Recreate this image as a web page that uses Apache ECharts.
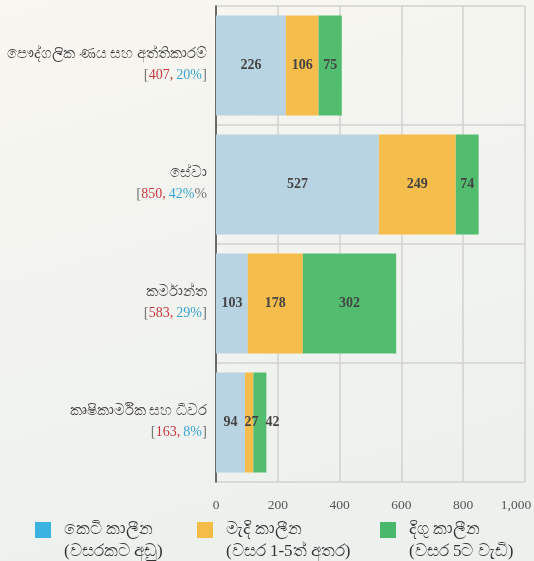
<!DOCTYPE html>
<html><head><meta charset="utf-8">
<script src="https://cdn.jsdelivr.net/npm/echarts@6/dist/echarts.min.js"></script>
<style>html,body{margin:0;padding:0;}#c{width:534px;height:561px;}</style>
</head><body><div id="c"></div>
<script>
const categories = ['පෞද්ගලික ණය සහ අත්තිකාරම්', 'සේවා', 'කර්මාන්ත', 'කෘෂිකාර්මික සහ ධීවර'];
const totals = [407, 850, 583, 163];
const shares = [20, 42, 29, 8];
const closers = [']', '%', ']', ']'];
const shortTerm = [226, 527, 103, 94];
const mediumTerm = [106, 249, 178, 27];
const longTerm = [75, 74, 302, 42];
const seriesNames = ['කෙටි කාලීන\n(වසරකට අඩු)', 'මැදි කාලීන\n(වසර 1-5ත් අතර)', 'දිගු කාලීන\n(වසර 5ට වැඩි)'];
const xTicks = [0, 200, 400, 600, 800, 1000];

const font = "'Liberation Serif', 'DejaVu Serif', serif";
const barColors = ['#b8d3e2', '#f5bd4b', '#52bd6f'];
const legendColors = ['#3bb3e0', '#f3bd48', '#48b86a'];
const seriesData = [shortTerm, mediumTerm, longTerm];

// keep labels of narrow stacked segments from overlapping (shift right)
const labelRight = {};
function labelLayout(params) {
  const r = params.rect, lr = params.labelRect;
  const key = params.dataIndex;
  let cx = r.x + r.width / 2;
  const w = lr.width;
  if (params.seriesIndex > 0 && labelRight[key] != null) {
    cx = Math.max(cx, labelRight[key] + 7 + w / 2);
  }
  labelRight[key] = cx + w / 2;
  return {x: cx, y: r.y + r.height / 2, align: 'center', verticalAlign: 'middle'};
}

const chart = echarts.init(document.getElementById('c'), null, {renderer: 'canvas'});
const option = {
  backgroundColor: new echarts.graphic.LinearGradient(0, 0, 0.3, 1, [
    {offset: 0, color: '#f8f6f0'}, {offset: 1, color: '#edf1ee'}
  ]),
  animation: false,
  textStyle: {fontFamily: font},
  grid: {left: 216, right: 9, top: 6, bottom: 79, outerBoundsMode: 'none'},
  xAxis: {
    type: 'value', min: 0, max: 1000, interval: 200,
    axisLine: {show: false}, axisTick: {show: false},
    splitLine: {show: true, lineStyle: {color: '#d2d2d0', width: 1.5}},
    axisLabel: {
      color: '#555', fontSize: 13.5, fontFamily: font, margin: 16,
      formatter: v => {
        if (!xTicks.includes(v)) return '';
        const s = v.toLocaleString('en-US');
        return v === xTicks[xTicks.length - 1] ? `{m|${s}}` : s;
      },
      rich: {m: {color: '#555', fontSize: 13.5, fontFamily: font, padding: [0, 18, 0, 0]}}
    }
  },
  yAxis: {
    type: 'category', data: categories, inverse: true,
    axisLine: {show: true, lineStyle: {color: '#444', width: 1.5}},
    axisTick: {show: false},
    splitLine: {show: true, lineStyle: {color: '#d2d2d0', width: 1.5}},
    axisLabel: {
      margin: 9, align: 'right', lineHeight: 20,
      formatter: (v, i) => `{n|${v}}\n{b|[}{r|${totals[i]},} {p|${shares[i]}%}{b|${closers[i]}}`,
      rich: {
        n: {color: '#444', fontSize: 14.8, fontFamily: font, lineHeight: 20, padding: [0, 0, 2, 0]},
        b: {color: '#777', fontSize: 15, fontFamily: font, lineHeight: 20},
        r: {color: '#c8373f', fontSize: 14, fontFamily: font, lineHeight: 20},
        p: {color: '#3aa6d0', fontSize: 14, fontFamily: font, lineHeight: 20}
      }
    }
  },
  legend: seriesNames.map((n, i) => ({
    data: [{name: n, itemStyle: {color: legendColors[i]},
            icon: 'path://M0,0h16v16h-16z M0,38h0.01v0.01h-0.01z'}],
    left: [35, 197, 380][i], top: 519, padding: 0,
    itemWidth: 16, itemHeight: 38,
    textStyle: {color: '#333', fontSize: 17, fontFamily: font, lineHeight: 22, padding: [0, 0, 0, 8]},
    selectedMode: false
  })),
  series: seriesNames.map((n, i) => ({
    name: n, type: 'bar', stack: 'total', barCategoryGap: '16%',
    data: seriesData[i],
    itemStyle: {color: barColors[i]},
    labelLayout: labelLayout,
    label: {show: true, position: 'inside', color: '#444', fontWeight: 'bold', fontSize: 14, fontFamily: font}
  }))
};
chart.setOption(option);
</script></body></html>
